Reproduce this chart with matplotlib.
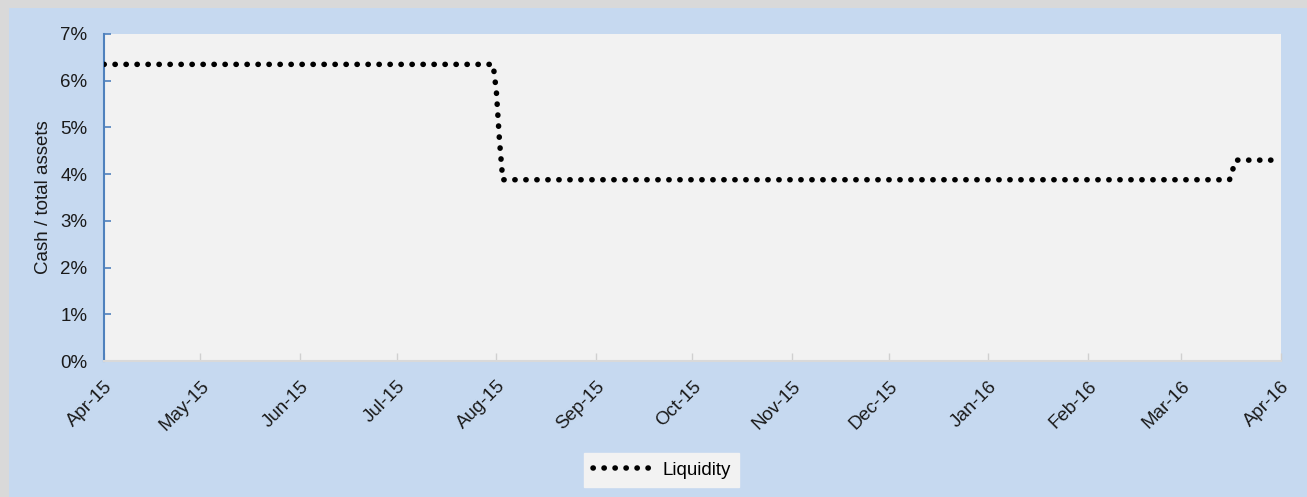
import matplotlib
matplotlib.use("Agg")
import matplotlib.pyplot as plt
import matplotlib.dates as mdates
import numpy as np
import pandas as pd
from matplotlib.patches import Rectangle

plt.rcParams['font.family'] = ['Liberation Sans', 'DejaVu Sans']

# Data (breakpoints of the liquidity series, % of total assets)
dates = ["2015-04-01", "2015-07-31", "2015-08-01", "2015-08-02", "2015-08-03",
         "2016-03-16", "2016-03-17", "2016-03-18", "2016-04-01"]
liquidity = [6.35, 6.35, 5.78, 4.70, 3.88, 3.88, 4.10, 4.30, 4.30]
series_name = "Liquidity"
y_label = "Cash / total assets"
y_ticks = [0, 1, 2, 3, 4, 5, 6, 7]

x = pd.to_datetime(dates)
y = np.array(liquidity) / 100.0

W, H = 1307, 497
FS = 13.5
fig = plt.figure(figsize=(W / 100, H / 100), dpi=100)
fig.patch.set_facecolor('#d9d9d9')
fig.patches.append(Rectangle((9 / W, 0), 1 - 9 / W, 1 - 8 / H, transform=fig.transFigure,
                             facecolor='#c6d9f0', edgecolor='none', zorder=-5))

ax = fig.add_axes([104 / W, 1 - 361 / H, (1281 - 104) / W, (361 - 34) / H])
ax.set_zorder(1)
ax.set_facecolor('#f2f2f2')

ax.plot(x, y, color='black', linewidth=4.0, linestyle=(0, (0.05, 1.93)),
        dash_capstyle='round', solid_capstyle='round', label=series_name, zorder=3)

ax.set_xlim(pd.Timestamp("2015-04-01"), pd.Timestamp("2016-04-01"))
ax.set_ylim(0, 0.07)
ax.set_yticks([v / 100 for v in y_ticks])
ax.set_yticklabels([f"{v}%" for v in y_ticks])
ax.xaxis.set_major_locator(mdates.MonthLocator())
ax.xaxis.set_major_formatter(mdates.DateFormatter('%b-%y'))

for s in ['top', 'right']:
    ax.spines[s].set_visible(False)
ax.spines['left'].set_color('#4f81bd')
ax.spines['left'].set_linewidth(1.5)
ax.spines['bottom'].set_color('#d9d9d9')
ax.spines['bottom'].set_linewidth(1.5)

ax.tick_params(axis='y', direction='in', length=5, width=1.2, color='#4f81bd',
               pad=12, labelsize=FS, labelcolor='#1a1a1a')
ax.tick_params(axis='x', direction='in', length=6, width=1.0, color='#d0d0d0',
               pad=12, labelsize=FS, labelcolor='#1a1a1a')
for lab in ax.get_xticklabels():
    lab.set_rotation(45)
    lab.set_ha('right')
    lab.set_va('top')
    lab.set_rotation_mode('anchor')

ax.set_ylabel(y_label, fontsize=FS, color='#1a1a1a', labelpad=6)

leg = fig.legend(loc='center', bbox_to_anchor=(661.5 / W, 1 - 470 / H), frameon=True,
                 fontsize=FS, handlelength=3.1, handletextpad=0.6, borderpad=0.45,
                 borderaxespad=0, fancybox=False)
leg.get_frame().set_facecolor('#f2f2f2')
leg.get_frame().set_edgecolor('#f2f2f2')
leg.get_frame().set_alpha(1)

fig.savefig("out.png", dpi=100, facecolor=fig.get_facecolor())
